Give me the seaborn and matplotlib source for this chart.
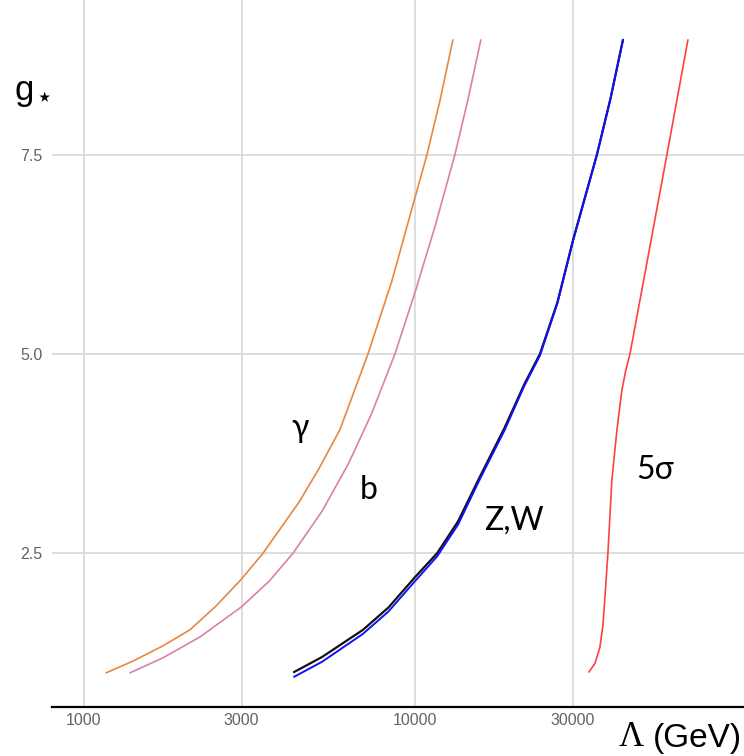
import numpy as np
import pandas as pd
import matplotlib
matplotlib.use("Agg")
import matplotlib.pyplot as plt
import seaborn as sns

# Reach in the cutoff scale (GeV) versus coupling g*, one curve per channel
gamma_lambda = [1169, 1413, 1738, 2094, 2512, 3000, 3478, 4467, 5129, 5938,
                7215, 8511, 10000, 10870, 11885, 13020]
gamma_g = [1.0, 1.15, 1.34, 1.54, 1.84, 2.18, 2.5, 3.14, 3.56, 4.05,
           5.0, 5.91, 6.96, 7.5, 8.17, 8.94]

b_lambda = [1380, 1738, 2244, 3000, 3631, 4284, 5248, 6310, 7413, 8702,
            10000, 11480, 13200, 14450, 15810]
b_g = [1.0, 1.19, 1.45, 1.83, 2.15, 2.5, 3.03, 3.63, 4.26, 5.0,
       5.77, 6.59, 7.5, 8.19, 8.94]

zw_lambda = [4315, 5248, 6970, 8318, 10000, 11660, 13490, 15700, 18620, 21380,
             23830, 26920, 30000, 35410, 38900, 42430]
zw_black_g = [1.01, 1.20, 1.54, 1.82, 2.2, 2.5, 2.9, 3.46, 4.07, 4.62,
              5.0, 5.65, 6.43, 7.5, 8.2, 8.94]
zw_blue_g = [0.95, 1.14, 1.49, 1.77, 2.15, 2.46, 2.86, 3.43, 4.04, 4.60,
             4.98, 5.64, 6.42, 7.5, 8.2, 8.94]

sigma5_lambda = [33500, 34940, 36150, 36930, 37440, 38220, 39290, 40700, 42130,
                 43300, 44540, 45480, 50660, 57600, 66650]
sigma5_g = [1.01, 1.12, 1.32, 1.6, 1.95, 2.5, 3.42, 4.05, 4.55,
            4.8, 5.0, 5.2, 6.25, 7.5, 8.94]

x_ticks = [1000, 3000, 10000, 30000]
x_tick_labels = ["1000", "3000", "10000", "30000"]
y_ticks = [2.5, 5.0, 7.5]
y_tick_labels = ["2.5", "5.0", "7.5"]

sns.set_style("white")
plt.rcParams["text.color"] = "black"

W, H = 744, 756
fig = plt.figure(figsize=(W / 100, H / 100), dpi=100)
ax = fig.add_axes([52 / W, 49 / H, 1 - 52 / W, 1 - 49 / H])

curves = [
    (gamma_lambda, gamma_g, "#e8873e", 1.2),
    (b_lambda, b_g, "#dc7fab", 1.2),
    (zw_lambda, zw_black_g, "#111111", 1.6),
    (zw_lambda, zw_blue_g, "#1010ff", 1.4),
    (sigma5_lambda, sigma5_g, "#ff4040", 1.2),
]
for xs, ys, col, lw in curves:
    df = pd.DataFrame({"Lambda": xs, "g": ys})
    sns.lineplot(data=df, x="Lambda", y="g", ax=ax, color=col, lw=lw,
                 sort=False, estimator=None)

ax.set_xscale("log")
ax.set_xlim(803, 98400)
ax.set_ylim(0.572, 9.44)

ax.set_xticks(x_ticks)
ax.set_xticklabels(x_tick_labels)
ax.set_yticks(y_ticks)
ax.set_yticklabels(y_tick_labels)
ax.xaxis.set_minor_locator(matplotlib.ticker.NullLocator())
ax.tick_params(axis="both", length=0, labelsize=11.5, labelcolor="#636363")
ax.tick_params(axis="x", pad=4)
ax.tick_params(axis="y", pad=7)
for lab in ax.get_xticklabels() + ax.get_yticklabels():
    lab.set_family("Liberation Sans")

ax.grid(True, color="#dadada", lw=1.3)
ax.set_axisbelow(True)
ax.set_xlabel("")
ax.set_ylabel("")
for side in ["left", "right", "top"]:
    ax.spines[side].set_visible(False)
ax.spines["bottom"].set_color("black")
ax.spines["bottom"].set_linewidth(1.6)

# Curve labels
lab_font = ["Lato", "DejaVu Sans"]
ax.text(4498, 4.07, "γ", fontsize=23, family=lab_font, ha="center", va="center",
        color="black")
ax.text(7260, 3.29, "b", fontsize=23, family=lab_font, ha="center", va="center",
        color="black")
ax.text(19900, 2.91, "Z,W", fontsize=23, family=lab_font, ha="center", va="center",
        color="black")
ax.text(52970, 3.55, "5σ", fontsize=23, family=lab_font, ha="center", va="center",
        color="black")

# Axis titles
fig.text(15 / W, 1 - 100 / H, "g", fontsize=25, family="Liberation Sans",
         ha="left", va="baseline", color="black")
fig.text(44 / W, 1 - 98 / H, "⋆", fontsize=20, family="DejaVu Sans",
         ha="center", va="center", color="black")
fig.text(644 / W, 1 - 738 / H, "Λ", fontsize=25, family="Liberation Serif",
         ha="right", va="center", color="black")
fig.text(742 / W, 1 - 738 / H, "(GeV)", fontsize=24, family="Liberation Sans",
         ha="right", va="center", color="black")

fig.savefig("out.png", dpi=100, facecolor="white")
